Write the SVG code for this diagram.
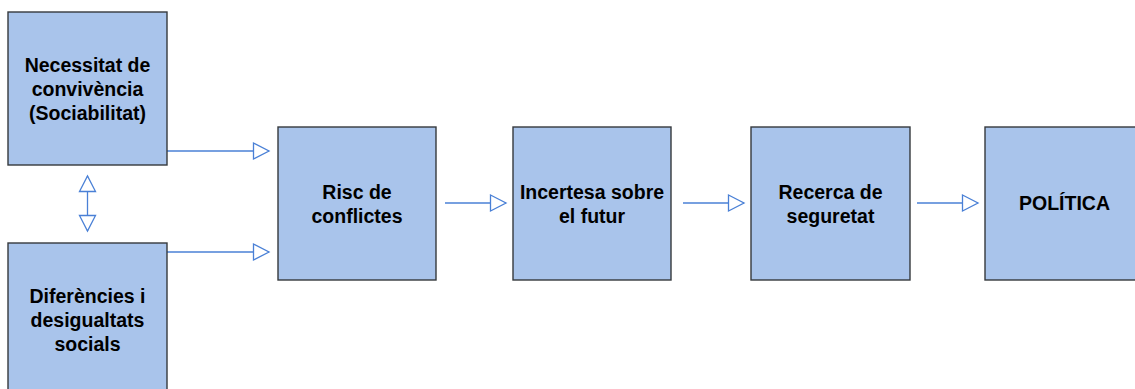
<svg xmlns="http://www.w3.org/2000/svg" width="1135" height="389" viewBox="0 0 1135 389">
<style>
.box{fill:#a9c4eb;stroke:#36393d;stroke-width:1.4}
.lbl{font-family:"Liberation Sans",Arial,sans-serif;font-weight:bold;font-size:19.5px;fill:#000;text-anchor:middle}
.edge{stroke:#4a80d6;stroke-width:1.3;fill:none}
</style>
<defs>
<marker id="open" viewBox="-1 -1 19 19" refX="16" refY="8.5" markerWidth="19" markerHeight="19" markerUnits="userSpaceOnUse" orient="auto-start-reverse">
<path d="M0.5,0.5 L16,8.5 L0.5,16.5 Z" fill="#fff" stroke="#4a80d6" stroke-width="1.3"/>
</marker>
</defs>
<rect width="1135" height="389" fill="#fff"/>
<g id="connectors">
<path class="edge" d="M167,151 H269" marker-end="url(#open)"/>
<path class="edge" d="M167,252 H269" marker-end="url(#open)"/>
<path class="edge" d="M87.5,176 V231" marker-start="url(#open)" marker-end="url(#open)"/>
<path class="edge" d="M445,203 H506" marker-end="url(#open)"/>
<path class="edge" d="M683,203 H744" marker-end="url(#open)"/>
<path class="edge" d="M917,203 H978" marker-end="url(#open)"/>
</g>
<g id="n1">
<rect class="box" x="8" y="12" width="159" height="153"/>
<text class="lbl" x="87.5" y="72">Necessitat de</text>
<text class="lbl" x="87.5" y="96">convivència</text>
<text class="lbl" x="87.5" y="120">(Sociabilitat)</text>
</g>
<g id="n2">
<rect class="box" x="8" y="243" width="159" height="153"/>
<text class="lbl" x="87.5" y="303">Diferències i</text>
<text class="lbl" x="87.5" y="327">desigualtats</text>
<text class="lbl" x="87.5" y="351">socials</text>
</g>
<g id="n3">
<rect class="box" x="278" y="127" width="158" height="153"/>
<text class="lbl" x="357" y="199">Risc de</text>
<text class="lbl" x="357" y="223">conflictes</text>
</g>
<g id="n4">
<rect class="box" x="513" y="127" width="158" height="153"/>
<text class="lbl" x="592" y="199">Incertesa sobre</text>
<text class="lbl" x="592" y="223">el futur</text>
</g>
<g id="n5">
<rect class="box" x="751" y="127" width="159" height="153"/>
<text class="lbl" x="830.5" y="199">Recerca de</text>
<text class="lbl" x="830.5" y="223">seguretat</text>
</g>
<g id="n6">
<rect class="box" x="985" y="127" width="159" height="153"/>
<text class="lbl" x="1064.5" y="210">POLÍTICA</text>
</g>
</svg>
